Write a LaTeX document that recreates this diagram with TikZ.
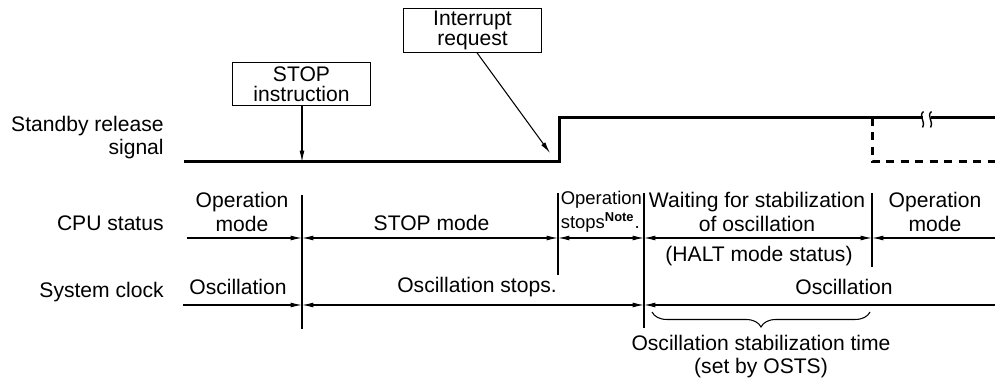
\documentclass[tikz,border=0pt]{standalone}
\usepackage{fontspec}
\setmainfont{Liberation Sans}
\usetikzlibrary{arrows.meta,positioning,decorations.pathreplacing}

\begin{document}
\begin{tikzpicture}[
  lbl/.style={align=center, inner sep=0pt,
              font=\fontsize{12}{13.5}\selectfont},
  sidelbl/.style={align=right, inner sep=0pt, anchor=east,
                  font=\fontsize{12}{13.5}\selectfont},
  evbox/.style={rectangle, draw=black, line width=0.6pt, fill=white,
                align=center, inner sep=0pt,
                font=\fontsize{12}{11.4}\selectfont,
                minimum width=2.76cm, minimum height=0.87cm},
  sig/.style={line width=1.7pt},
  dsig/.style={line width=1.7pt, dash pattern=on 0.16cm off 0.13cm},
  vline/.style={line width=0.6pt},
  brk/.style={line width=0.8pt},
  sarr/.style={-{Latex[length=6.5pt,width=2.8pt]}, line width=0.6pt},
  rarr/.style={-{Latex[length=6.5pt,width=2.8pt]}, line width=0.6pt},
  larr/.style={{Latex[length=6.5pt,width=2.8pt]}-, line width=0.6pt},
  dim/.style={{Latex[length=6.5pt,width=2.8pt]}-{Latex[length=6.5pt,width=2.8pt]},
              line width=0.6pt},
]
\useasboundingbox (0,0) rectangle (19.9,7.66);

%% Row labels
\node[sidelbl] (lsig) at (3.28, 4.91) {Standby release\\signal};
\node[sidelbl] (lcpu) at (3.28, 3.20) {CPU status};
\node[sidelbl] (lclk) at (3.28, 1.82) {System clock};

%% Standby release signal waveform
\coordinate (s0) at (3.68, 4.42);
\coordinate (sstop) at (6.04, 4.42);
\coordinate (srise) at (11.18, 4.42);
\coordinate (shigh) at (11.18, 5.30);
\coordinate (sbrk1) at (18.46, 5.30);
\coordinate (sbrk2) at (18.62, 5.30);
\coordinate (send) at (19.9, 5.30);
\draw[sig] (s0) -- (srise) -- (shigh) -- (sbrk1);
\draw[sig] (sbrk2) -- (send);
%% break marks
\draw[brk] (18.47,5.43) .. controls (18.36,5.34) and (18.52,5.24) .. (18.45,5.11);
\draw[brk] (18.63,5.43) .. controls (18.52,5.34) and (18.68,5.24) .. (18.61,5.11);
%% alternative release (dashed)
\coordinate (sdash) at (17.44, 5.30);
\draw[dsig] (sdash) -- (17.44, 4.42) -- (19.9, 4.42);

%% Event boxes
\node[evbox] (stopbox) at (6.03, 5.98) {STOP\\instruction};
\node[evbox] (intbox) at (9.45, 7.05) {Interrupt\\request};
\coordinate (irq) at (11.0, 4.60);
\draw[sarr] (stopbox.south -| sstop) -- (sstop);
\draw[sarr] ([xshift=0.09cm]intbox.south) -- (irq);

%% Boundary lines
\coordinate (v1t) at (6.04, 3.76);  \coordinate (v1b) at (6.04, 1.08);
\coordinate (v2t) at (11.16, 3.80); \coordinate (v2b) at (11.16, 2.16);
\coordinate (v3t) at (12.88, 3.80); \coordinate (v3b) at (12.88, 1.10);
\coordinate (v4t) at (17.44, 3.80); \coordinate (v4b) at (17.44, 2.32);
\foreach \v in {1,2,3,4}
  \draw[vline] (v\v t) -- (v\v b);

%% CPU status row
\coordinate (cpu0) at (3.74, 2.90);
\coordinate (cpu5) at (19.9, 2.90);
\draw[rarr] (cpu0) -- (cpu0 -| v1t);
\draw[dim] (cpu0 -| v1t) -- (cpu0 -| v2t);
\draw[dim] (cpu0 -| v2t) -- (cpu0 -| v3t);
\draw[dim] (cpu0 -| v3t) -- (cpu0 -| v4t);
\draw[larr] (cpu0 -| v4t) -- (cpu5);

\node[lbl] (cpu1) at (4.84, 3.42) {Operation\\mode};
\node[lbl] (cpu2) at (8.63, 3.20) {STOP mode};
\node[lbl, align=left, anchor=west, font=\fontsize{10.5}{13.5}\selectfont]
  (cpu3) at (11.21, 3.42) {Operation\\stops\textsuperscript{\bfseries Note}.};
\node[lbl] (cpu4) at (15.14, 3.42) {Waiting for stabilization\\of oscillation};
\node[lbl] (cpu4b) at (15.18, 2.54) {(HALT mode status)};
\node[lbl] (cpu5t) at (18.70, 3.42) {Operation\\mode};

%% System clock row
\coordinate (clk0) at (3.66, 1.56);
\coordinate (clk3) at (19.9, 1.56);
\draw[rarr] (clk0) -- (clk0 -| v1t);
\draw[dim] (clk0 -| v1t) -- (clk0 -| v3t);
\draw[larr] (clk0 -| v3t) -- (clk3);

\node[lbl] (clk1) at (4.76, 1.92) {Oscillation};
\node[lbl] (clk2) at (9.54, 1.92) {Oscillation stops.};
\node[lbl] (clk3t) at (16.88, 1.92) {Oscillation};

%% Stabilization time brace
\coordinate (brA) at (17.40, 1.42);
\coordinate (brB) at (13.04, 1.42);
\draw[line width=0.6pt, decorate, decoration={brace, amplitude=0.3cm}] (brA) -- (brB);
\node[lbl] (ostime) at (15.22, 0.53) {Oscillation stabilization time\\(set by OSTS)};

\end{tikzpicture}
\end{document}
